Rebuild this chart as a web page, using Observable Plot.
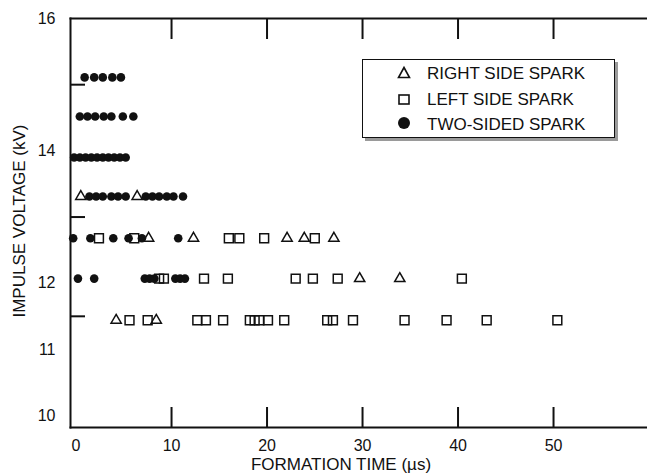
<!DOCTYPE html>
<html>
<head>
<meta charset="utf-8">
<script src="https://cdn.jsdelivr.net/npm/d3@7"></script>
<script src="https://cdn.jsdelivr.net/npm/@observablehq/plot@0.6"></script>
<style>
  html, body { margin: 0; padding: 0; background: #fff; }
  #wrap { position: relative; width: 647px; height: 476px; font-family: "Liberation Sans", Arial, sans-serif; color: #111; }
  #legend { position: absolute; left: 362px; top: 59px; width: 251px; height: 77px; border: 1.5px solid #111;
            box-shadow: 3px 3px 0 #9a9a9a; background: #fff; }
  .item { position: absolute; left: 0; height: 20px; width: 100%; }
  .item svg { position: absolute; left: 31px; top: 0; }
  .item span { position: absolute; left: 64px; top: 0; line-height: 20px; font-size: 17px; white-space: nowrap; }
</style>
</head>
<body>
<div id="wrap"></div>
<script>
// ---- data ----
const xTickLabels = [0, 10, 20, 30, 40, 50];
const xTickMarks = [10, 20, 30, 40, 50];
const yTickLabels = [16, 14, 12, 11, 10];
const yTickMarks = [15, 13, 11.5];
const xDomain = [-0.58, 59.84];
const yDomain = [9.82, 16];

const seriesNames = ["RIGHT SIDE SPARK", "LEFT SIDE SPARK", "TWO-SIDED SPARK"];
const xTitle = "FORMATION TIME (µs)";
const yTitle = "IMPULSE VOLTAGE (kV)";

// voltage level (kV) -> formation times (µs)
const rightSide = [
  [13.31, [0.5, 6.4]],
  [12.68, [7.6, 12.3, 22.1, 23.9, 27.0]],
  [12.07, [29.7, 33.9]],
  [11.44, [4.2, 8.4]]
];
const leftSide = [
  [12.68, [2.4, 6.1, 16.0, 17.1, 19.7, 25.0]],
  [12.07, [8.7, 9.2, 13.4, 15.9, 23.0, 24.8, 27.4, 40.4]],
  [11.44, [5.6, 7.5, 12.7, 13.6, 15.4, 18.2, 18.7, 19.2, 20.1, 21.8, 26.3, 26.9, 29.0, 34.4, 38.8, 43.0, 50.4]]
];
const twoSided = [
  [15.11, [0.9, 1.9, 2.8, 3.8, 4.7]],
  [14.52, [0.4, 1.2, 2.0, 2.9, 3.7, 4.9, 6.0]],
  [13.90, [-0.2, 0.4, 1.0, 1.6, 2.2, 2.8, 3.4, 4.0, 4.6, 5.2]],
  [13.31, [1.4, 2.1, 2.8, 3.7, 4.4, 5.2, 7.3, 8.0, 8.7, 9.5, 10.2, 11.2]],
  [12.68, [-0.3, 1.5, 3.9, 5.5, 6.9, 10.7]],
  [12.07, [0.2, 1.9, 7.2, 7.7, 8.2, 10.4, 10.9, 11.4]]
];

const flat = rows => rows.flatMap(([v, ts]) => ts.map(t => ({t, v})));
const R = flat(rightSide), L = flat(leftSide), T = flat(twoSided);

const ink = "#111";
const plot = Plot.plot({
  width: 647,
  height: 476,
  marginLeft: 70,
  marginRight: 0,
  marginTop: 18,
  marginBottom: 49,
  style: {fontFamily: "'Liberation Sans', Arial, sans-serif", fontSize: "16px", color: ink, background: "#fff"},
  x: {domain: xDomain},
  y: {domain: yDomain},
  marks: [
    Plot.frame({anchor: "left", stroke: ink, strokeWidth: 2}),
    Plot.frame({anchor: "top", stroke: ink, strokeWidth: 2}),
    Plot.frame({anchor: "bottom", stroke: ink, strokeWidth: 2}),
    // inward tick marks
    Plot.axisX({anchor: "bottom", ticks: xTickMarks, tickSize: -20, tickFormat: () => "", label: null, stroke: ink, strokeWidth: 2}),
    Plot.axisX({anchor: "top", ticks: xTickMarks, tickSize: -20, tickFormat: () => "", label: null, stroke: ink, strokeWidth: 2}),
    Plot.axisY({anchor: "left", ticks: yTickMarks, tickSize: -15, tickFormat: () => "", label: null, stroke: ink, strokeWidth: 2}),
    // tick labels
    Plot.axisX({anchor: "bottom", ticks: xTickLabels, tickSize: 0, tickPadding: 12, tickFormat: d => String(d), label: null, fontSize: 16, fill: ink}),
    Plot.axisY({anchor: "left", ticks: yTickLabels, tickSize: 0, tickPadding: 15, tickFormat: d => String(d), label: null, fontSize: 16, fill: ink}),
    // axis titles
    Plot.text([xTitle], {text: d => d, frameAnchor: "bottom", lineAnchor: "middle", textAnchor: "middle", dy: 37, dx: -18, fontSize: 17, fill: ink}),
    Plot.text([yTitle], {text: d => d, frameAnchor: "left", textAnchor: "middle", lineAnchor: "middle", rotate: -90, dx: -51, dy: -2, fontSize: 17, fill: ink}),
    // data
    Plot.dot(T, {x: "t", y: "v", symbol: "circle", r: 4.3, fill: ink, stroke: "none"}),
    Plot.dot(L, {x: "t", y: "v", symbol: "square", r: 5, fill: "none", stroke: ink, strokeWidth: 1.5}),
    Plot.dot(R, {x: "t", y: "v", symbol: "triangle", r: 3.8, fill: "none", stroke: ink, strokeWidth: 1.5})
  ]
});

const wrap = document.getElementById("wrap");
wrap.appendChild(plot);

// legend
const legend = document.createElement("div");
legend.id = "legend";
const symbols = [
  `<svg width="20" height="20"><path d="M10,4.5 L15.5,14.5 L4.5,14.5 Z" fill="none" stroke="${ink}" stroke-width="1.6"/></svg>`,
  `<svg width="20" height="20"><rect x="5" y="5" width="10" height="9" fill="none" stroke="${ink}" stroke-width="1.6"/></svg>`,
  `<svg width="20" height="20"><circle cx="10" cy="9" r="6" fill="${ink}"/></svg>`
];
const tops = [3, 30, 54];
const textTops = [4, 30, 55];
seriesNames.forEach((name, i) => {
  const it = document.createElement("div");
  it.className = "item";
  it.style.top = tops[i] + "px";
  it.innerHTML = symbols[i] + `<span style="top:${textTops[i] - tops[i]}px">${name}</span>`;
  legend.appendChild(it);
});
wrap.appendChild(legend);
</script>
</body>
</html>
